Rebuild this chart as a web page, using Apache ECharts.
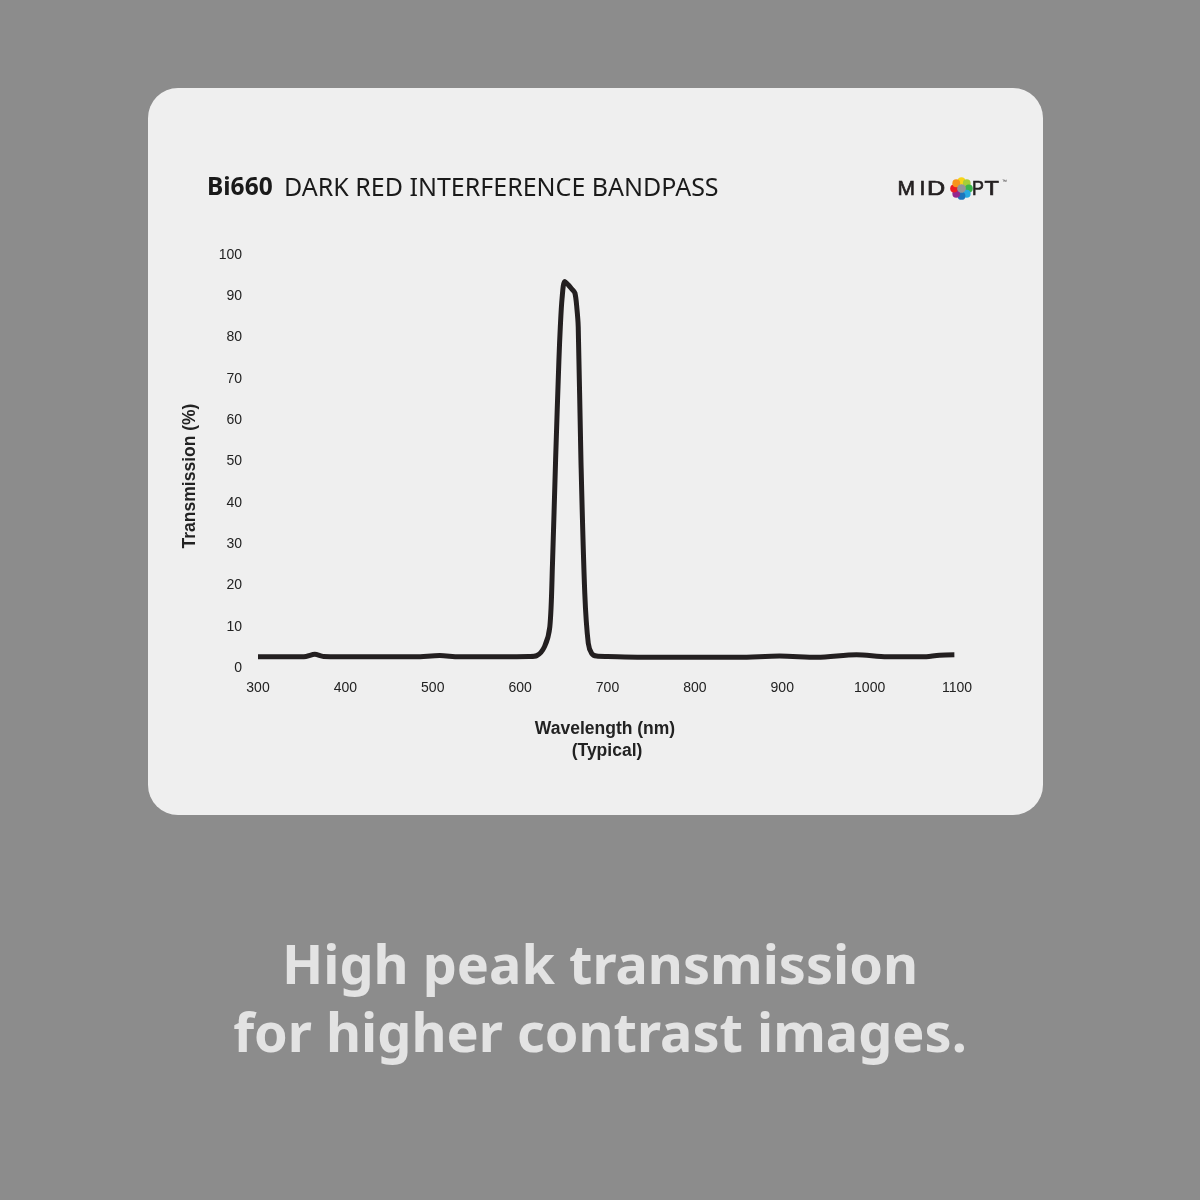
<!DOCTYPE html>
<html>
<head>
<meta charset="utf-8">
<script src="https://cdn.jsdelivr.net/npm/echarts@6/dist/echarts.min.js"></script>
<style>
html,body{margin:0;padding:0;background:#8c8c8c;}
#chart{width:1200px;height:1200px;}
</style>
</head>
<body>
<div id="chart"></div>
<script>
// Data
const wavelengths = [300, 340, 355, 365, 375, 420, 480, 508, 530, 580, 610, 619, 628, 634, 637, 640.6, 644.4, 646, 648, 651, 655, 659, 662.7, 665, 666.5, 669.6, 674, 678, 682, 687.5, 700, 760, 850, 897, 940, 985, 1020, 1060, 1080, 1097];
const transmission = [2.7, 2.7, 2.8, 3.3, 2.8, 2.7, 2.7, 3.0, 2.7, 2.7, 2.8, 3.0, 5.2, 10, 25, 50.4, 74.6, 82.6, 89.5, 93.6, 92.8, 91.8, 90.8, 87, 82.6, 50.4, 18.1, 6, 3.5, 2.9, 2.8, 2.6, 2.6, 2.9, 2.6, 3.2, 2.7, 2.7, 3.1, 3.2];
const xTicks = [300, 400, 500, 600, 700, 800, 900, 1000, 1100];
const yTicks = [0, 10, 20, 30, 40, 50, 60, 70, 80, 90, 100];
const titleBold = 'Bi660';
const titleRest = 'DARK RED INTERFERENCE BANDPASS';
const xName = ['Wavelength (nm)', '(Typical)'];
const yName = 'Transmission (%)';
const tagline = ['High peak transmission', 'for higher contrast images.'];
const logoDotColors = ['#f7d417', '#a6ce39', '#3ab54a', '#27aae1', '#1c75bc', '#92278f', '#ed1c24', '#f7941d'];

const chart = echarts.init(document.getElementById('chart'));
const seriesData = wavelengths.map((w, i) => [w, transmission[i]]);

const logoX = 961.5, logoY = 188.5;
const logoDots = logoDotColors.map((c, i) => {
  const a = -Math.PI / 2 + i * Math.PI * 2 / logoDotColors.length;
  return {
    type: 'circle', silent: true,
    shape: { cx: logoX + 7.4 * Math.cos(a), cy: logoY + 7.4 * Math.sin(a), r: 3.9 },
    style: { fill: c }
  };
});
function logoLetter(ch, x, sx) {
  return { type: 'text', silent: true, x: x, y: 200, scaleX: sx, originX: 0, originY: 0,
    style: { x: 0, y: 0, text: ch, fill: '#231f20', stroke: '#231f20', lineWidth: 0.7,
      font: '21px "Liberation Sans"', textVerticalAlign: 'bottom', verticalAlign: 'bottom' } };
}

const option = {
  backgroundColor: '#8c8c8c',
  animation: false,
  grid: { left: 258, right: 243, top: 255, bottom: 532 },
  xAxis: {
    type: 'value', min: 300, max: 1100, interval: 100,
    axisLine: { show: false }, axisTick: { show: false }, splitLine: { show: false },
    axisLabel: { color: '#222', fontSize: 14, fontFamily: 'Liberation Sans', margin: 13,
      formatter: v => xTicks.indexOf(v) >= 0 ? String(v) : '' }
  },
  yAxis: {
    type: 'value', min: 0, max: 100, interval: 10,
    axisLine: { show: false }, axisTick: { show: false }, splitLine: { show: false },
    axisLabel: { color: '#222', fontSize: 14, fontFamily: 'Liberation Sans', margin: 16,
      formatter: v => yTicks.indexOf(v) >= 0 ? String(v) : '' }
  },
  graphic: [
    { type: 'rect', z: -10, silent: true,
      shape: { x: 148, y: 88, width: 895, height: 727, r: 30 },
      style: { fill: '#efefef' } },
    { type: 'text', silent: true, left: 207, top: 176,
      style: { text: titleBold, fill: '#1a1a1a', font: 'bold 24.5px "Noto Sans"' } },
    { type: 'text', silent: true, left: 284, top: 176,
      style: { text: titleRest, fill: '#1a1a1a', font: '25px "Noto Sans"' } },
    logoLetter('M', 897.5, 1.0),
    logoLetter('I', 919.5, 1.0),
    logoLetter('D', 927, 1.2),
    ...logoDots,
    { type: 'circle', silent: true, shape: { cx: logoX, cy: logoY, r: 4.3 }, style: { fill: '#939598' } },
    logoLetter('P', 972, 0.85),
    logoLetter('T', 984.5, 1.12),
    { type: 'text', silent: true, x: 1002, y: 179,
      style: { text: '™', fill: '#231f20', font: '5px "Liberation Sans"' } },
    { type: 'text', silent: true, x: 190, y: 476, rotation: Math.PI / 2,
      style: { text: yName, fill: '#222', font: 'bold 17.5px "Liberation Sans"', textAlign: 'center', textVerticalAlign: 'middle', align: 'center', verticalAlign: 'middle' } },
    { type: 'text', silent: true, x: 605, y: 729,
      style: { text: xName[0], fill: '#222', font: 'bold 17.5px "Liberation Sans"', textAlign: 'center', textVerticalAlign: 'middle', align: 'center', verticalAlign: 'middle' } },
    { type: 'text', silent: true, x: 607, y: 751,
      style: { text: xName[1], fill: '#222', font: 'bold 17.5px "Liberation Sans"', textAlign: 'center', textVerticalAlign: 'middle', align: 'center', verticalAlign: 'middle' } },
    { type: 'text', silent: true, x: 600, y: 969,
      style: { text: tagline[0], fill: '#e3e3e3', font: 'bold 54px "Noto Sans"', textAlign: 'center', textVerticalAlign: 'middle', align: 'center', verticalAlign: 'middle' } },
    { type: 'text', silent: true, x: 600, y: 1037,
      style: { text: tagline[1], fill: '#e3e3e3', font: 'bold 54px "Noto Sans"', textAlign: 'center', textVerticalAlign: 'middle', align: 'center', verticalAlign: 'middle' } }
  ],
  series: [{
    type: 'line', data: seriesData, smooth: 0.3, showSymbol: false,
    lineStyle: { color: '#231f20', width: 5 }
  }]
};
chart.setOption(option);
</script>
</body>
</html>
